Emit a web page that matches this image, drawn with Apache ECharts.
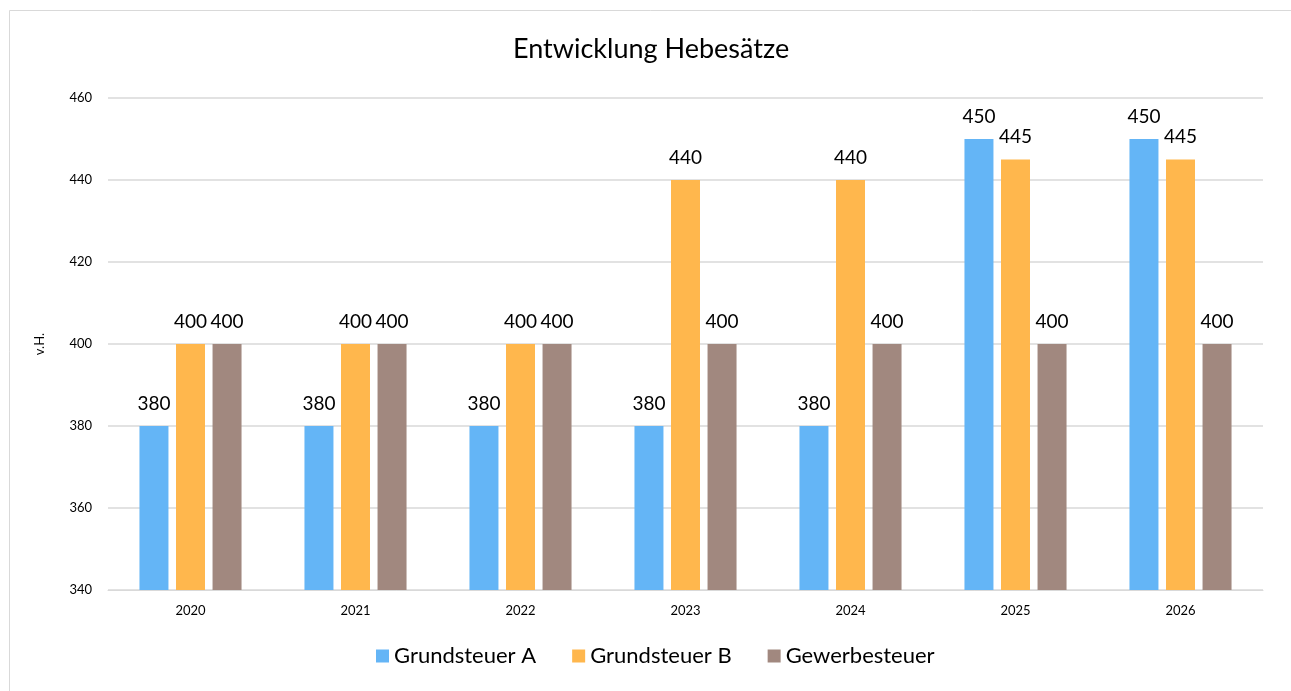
<!DOCTYPE html>
<html>
<head>
<meta charset="utf-8">
<script src="https://cdn.jsdelivr.net/npm/echarts@6/dist/echarts.min.js"></script>
<style>
  html, body { margin: 0; padding: 0; background: #fff; }
  #chart { width: 1291px; height: 691px; }
</style>
</head>
<body>
<div id="chart"></div>
<script>
  const years = ['2020', '2021', '2022', '2023', '2024', '2025', '2026'];
  const grundsteuerA = [380, 380, 380, 380, 380, 450, 450];
  const grundsteuerB = [400, 400, 400, 440, 440, 445, 445];
  const gewerbesteuer = [400, 400, 400, 400, 400, 400, 400];

  const font = 'Lato, "Open Sans", sans-serif';
  const chart = echarts.init(document.getElementById('chart'));

  function barSeries(name, data, color) {
    return {
      name: name,
      type: 'bar',
      data: data,
      barWidth: 29,
      barGap: '26%',
      itemStyle: { color: color },
      label: {
        show: true,
        position: 'top',
        distance: 13,
        color: '#000',
        fontSize: 19,
        fontFamily: font
      }
    };
  }

  chart.setOption({
    backgroundColor: '#fff',
    graphic: [{
      type: 'rect',
      left: 7,
      top: 8,
      shape: { width: 1310, height: 710 },
      style: { fill: 'none', stroke: '#d9d9d9', lineWidth: 1 },
      silent: true
    }],
    title: {
      text: 'Entwicklung Hebesätze',
      left: 508,
      top: 31,
      textStyle: { fontFamily: font, fontSize: 27, fontWeight: 'normal', color: '#000' }
    },
    legend: {
      bottom: 19,
      left: 371,
      itemWidth: 13,
      itemHeight: 13,
      itemGap: 36,
      icon: 'rect',
      textStyle: { fontFamily: font, fontSize: 22, color: '#000' },
      data: ['Grundsteuer A', 'Grundsteuer B', 'Gewerbesteuer']
    },
    grid: { left: 108, right: 28, top: 98, bottom: 101 },
    xAxis: {
      type: 'category',
      data: years,
      axisLine: { lineStyle: { color: '#d9d9d9' } },
      axisTick: { show: false },
      axisLabel: { color: '#000', fontSize: 13, fontFamily: font, margin: 14 }
    },
    yAxis: {
      type: 'value',
      min: 340,
      max: 460,
      interval: 20,
      name: 'v.H.',
      nameLocation: 'middle',
      nameRotate: 90,
      nameGap: 62,
      nameTextStyle: { color: '#000', fontSize: 13, fontFamily: font },
      axisLine: { show: false },
      axisTick: { show: false },
      axisLabel: { color: '#000', fontSize: 13, fontFamily: font, margin: 16 },
      splitLine: { lineStyle: { color: '#d9d9d9', width: 1.5 } }
    },
    series: [
      barSeries('Grundsteuer A', grundsteuerA, '#64b5f6'),
      barSeries('Grundsteuer B', grundsteuerB, '#ffb74d'),
      barSeries('Gewerbesteuer', gewerbesteuer, '#a1887f')
    ]
  });
</script>
</body>
</html>
